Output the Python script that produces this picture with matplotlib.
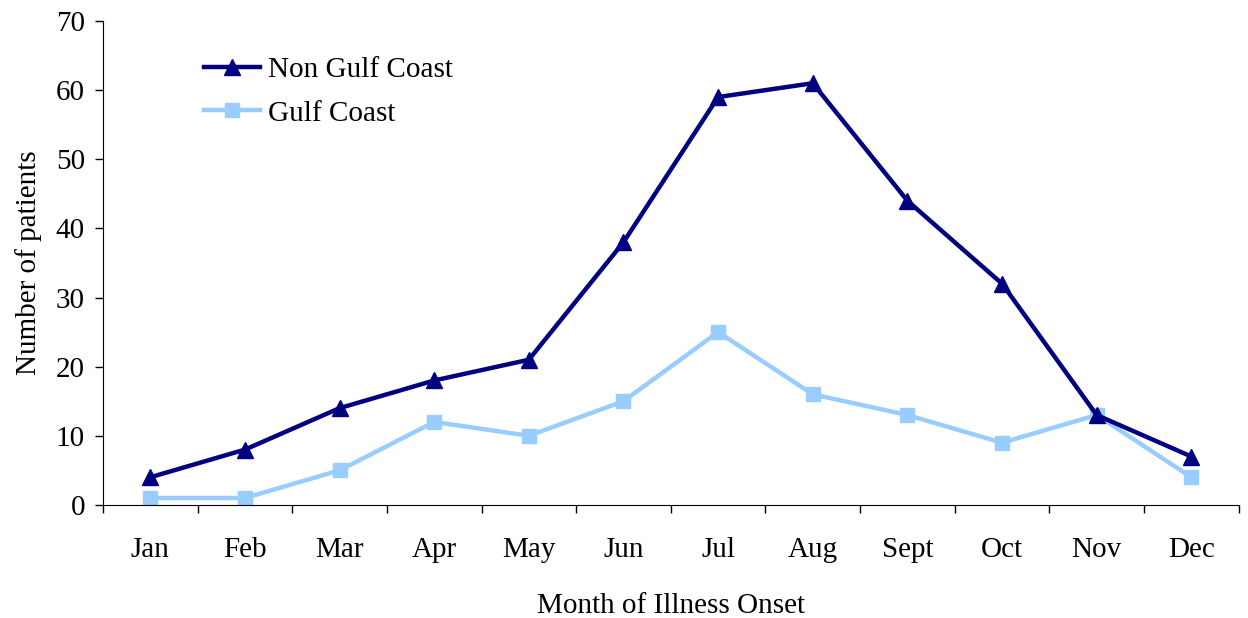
import matplotlib.pyplot as plt
import numpy as np

plt.rcParams['font.family'] = ['Liberation Serif', 'DejaVu Serif']

months = ['Jan', 'Feb', 'Mar', 'Apr', 'May', 'Jun', 'Jul', 'Aug', 'Sept', 'Oct', 'Nov', 'Dec']
non_gulf = [4, 8, 14, 18, 21, 38, 59, 61, 44, 32, 13, 7]
gulf = [1, 1, 5, 12, 10, 15, 25, 16, 13, 9, 13, 4]

fig = plt.figure(figsize=(12.48, 6.18), dpi=100)
ax = fig.add_axes([0.0825, 0.183, 0.910, 0.783])

x = np.arange(len(months))
ax.plot(x, non_gulf, color='#000080', lw=3.2, marker='^', ms=11, label='Non Gulf Coast', zorder=3)
ax.plot(x, gulf, color='#99CCFF', lw=3.2, marker='s', ms=10, label='Gulf Coast', zorder=2)

ax.set_xlim(-0.5, 11.5)
ax.set_ylim(0, 70)
ax.set_yticks(range(0, 71, 10))
# Major ticks between categories, labels on minor ticks at the centres
ax.set_xticks(np.arange(-0.5, 12, 1))
ax.set_xticklabels([])
ax.set_xticks(x, minor=True)
ax.set_xticklabels(months, minor=True)
ax.tick_params(axis='x', which='minor', length=0, pad=23, labelsize=21)
ax.tick_params(axis='x', which='major', length=6, width=1)
ax.tick_params(axis='y', length=6, width=1, pad=7, labelsize=21)

for s in ['top', 'right']:
    ax.spines[s].set_visible(False)

ax.set_xlabel('Month of Illness Onset', fontsize=21, labelpad=22)
ax.set_ylabel('Number of patients', fontsize=21, labelpad=10)

ax.legend(loc='upper left', bbox_to_anchor=(0.0655, 0.980), frameon=False, fontsize=21,
          handlelength=1.95, handletextpad=0.25, labelspacing=0.58)

fig.savefig('out.png', dpi=100)
